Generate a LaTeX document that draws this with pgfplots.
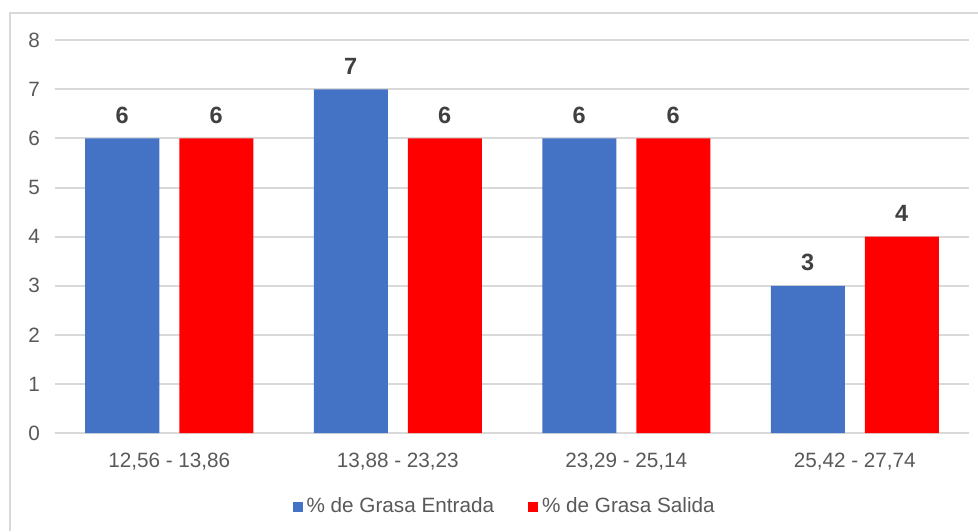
\documentclass[border=0pt]{standalone}
\usepackage{pgfplots}
\pgfplotsset{compat=1.18}
\usepackage{fontspec}
\setmainfont{Liberation Sans}
\definecolor{azul}{HTML}{4472C4}
\definecolor{rojo}{HTML}{FF0000}
\definecolor{rejilla}{HTML}{D9D9D9}
\definecolor{texto}{HTML}{595959}
\definecolor{etiqueta}{HTML}{404040}
\begin{document}
\begin{tikzpicture}
% marco y caja (1 px = 0.5 pt)
\useasboundingbox (-27.5pt,-49pt) rectangle (461.5pt,216.5pt);
\draw[rejilla, line width=1pt] (-22.5pt,-49pt) -- (-22.5pt,210pt) -- (461.5pt,210pt);
\begin{axis}[
    at={(0,0)}, anchor=south west,
    scale only axis,
    width=457pt, height=196.35pt,
    ybar=10pt, bar width=37pt,
    xmin=-0.5, xmax=3.5,
    ymin=0, ymax=8,
    ytick={0,...,8},
    xtick=data,
    xticklabels={{12,56 - 13,86}, {13,88 - 23,23}, {23,29 - 25,14}, {25,42 - 27,74}},
    ymajorgrids,
    grid style={rejilla, line width=1pt},
    axis line style={draw=none},
    major tick length=0pt,
    tick label style={font=\fontsize{10.35pt}{12pt}\selectfont, text=texto},
    /pgf/number format/assume math mode=true,
    yticklabel style={xshift=-4pt},
    xticklabel style={yshift=-6.5pt},
    nodes near coords,
    every node near coord/.append style={font=\fontsize{11.75pt}{14pt}\selectfont\bfseries,
        text=etiqueta, anchor=base, yshift=7.5pt},
    legend style={draw=none, at={(0.493,-0.188)}, anchor=center,
        font=\fontsize{10.35pt}{12pt}\selectfont, text=texto,
        /tikz/every even column/.append style={column sep=15pt}},
    legend columns=2,
    legend image code/.code={\fill[#1] (0pt,-2.5pt) rectangle (5pt,2.5pt);},
    clip=false,
]
\addplot[fill=azul, draw=none] coordinates {(0,6) (1,7) (2,6) (3,3)};
\addlegendentry{\% de Grasa Entrada}
\addplot[fill=rojo, draw=none] coordinates {(0,6) (1,6) (2,6) (3,4)};
\addlegendentry{\% de Grasa Salida}
\end{axis}
\end{tikzpicture}
\end{document}
